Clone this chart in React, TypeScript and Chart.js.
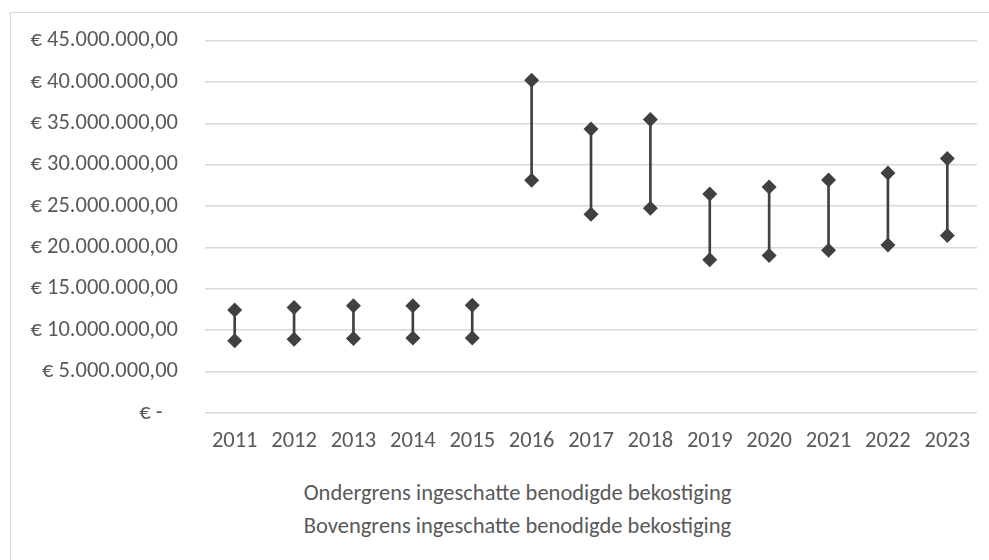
import React, { useEffect, useRef } from "react";
import { Chart, registerables } from "chart.js";

Chart.register(...registerables);

const years = ["2011","2012","2013","2014","2015","2016","2017","2018","2019","2020","2021","2022","2023"];
const ondergrens = [8.72e6, 8.9e6, 9.01e6, 9.05e6, 9.05e6, 28.12e6, 24.02e6, 24.74e6, 18.5e6, 19.03e6, 19.67e6, 20.31e6, 21.45e6];
const bovengrens = [12.43e6, 12.76e6, 12.95e6, 12.95e6, 13.03e6, 40.19e6, 34.3e6, 35.45e6, 26.47e6, 27.31e6, 28.16e6, 29.0e6, 30.74e6];
const legendLabels = ["Ondergrens ingeschatte benodigde bekostiging", "Bovengrens ingeschatte benodigde bekostiging"];
const yMin = 0;
const yMax = 45e6;
const yStep = 5e6;

const FONT = "Carlito, Lato, 'Open Sans', sans-serif";
const TEXT = "#595959";
const MARK = "#404040";
const FS = 22.5;

function euro(v: number): string {
  if (v === 0) return "€ -   ";
  const intPart = Math.round(v).toString().replace(/\B(?=(\d{3})+(?!\d))/g, ".");
  return "€ " + intPart + ",00";
}

export default function App() {
  const ref = useRef<HTMLCanvasElement | null>(null);
  useEffect(() => {
    if (!ref.current) return;
    const chart = new Chart(ref.current, {
      type: "bar",
      data: {
        labels: years,
        datasets: [
          {
            type: "line",
            label: legendLabels[0],
            data: ondergrens,
            showLine: false,
            pointStyle: "rectRot",
            pointRadius: 7.5,
            pointBorderWidth: 0,
            pointBackgroundColor: MARK,
            pointBorderColor: MARK,
            backgroundColor: MARK,
            borderColor: MARK,
            order: 1,
          } as any,
          {
            type: "line",
            label: legendLabels[1],
            data: bovengrens,
            showLine: false,
            pointStyle: "rectRot",
            pointRadius: 7.5,
            pointBorderWidth: 0,
            pointBackgroundColor: MARK,
            pointBorderColor: MARK,
            backgroundColor: MARK,
            borderColor: MARK,
            order: 1,
          } as any,
          {
            type: "bar",
            label: "hoog-laag",
            data: years.map((_, i) => [ondergrens[i], bovengrens[i]]),
            backgroundColor: MARK,
            borderWidth: 0,
            barThickness: 2,
            order: 2,
          } as any,
        ],
      },
      options: {
        responsive: false,
        maintainAspectRatio: false,
        animation: false,
        layout: { padding: { top: 0, right: 12, left: 0, bottom: 0 } },
        plugins: {
          legend: { display: false },
          tooltip: { enabled: false },
          title: { display: false },
        },
        scales: {
          x: {
            type: "category",
            offset: true,
            grid: { display: false, drawTicks: false },
            border: { display: false },
            ticks: {
              color: TEXT,
              font: { family: FONT, size: FS },
              padding: 15,
              maxRotation: 0,
              autoSkip: false,
            },
            afterFit: (s: any) => { s.height = 57; },
          },
          y: {
            min: yMin,
            max: yMax,
            grid: { color: "#d9d9d9", lineWidth: 1.5, drawTicks: false },
            border: { display: false },
            ticks: {
              stepSize: yStep,
              color: TEXT,
              font: { family: FONT, size: FS },
              padding: 27,
              callback: (v: any) => euro(Number(v)),
            },
            afterFit: (s: any) => { s.width = 194; },
          },
        },
      } as any,
    });
    return () => chart.destroy();
  }, []);

  return (
    <div style={{ position: "absolute", left: 0, top: 0, width: 989, height: 560, overflow: "hidden", background: "#fff" }}>
      <div style={{ position: "absolute", left: 10, top: 12, width: 1015, height: 600, border: "1.5px solid #d9d9d9", boxSizing: "border-box" }} />
      <canvas ref={ref} width={978} height={470} style={{ position: "absolute", left: 11, top: 0, display: "block" }} />
      <div style={{ position: "absolute", left: 10, top: 476, width: 1015, textAlign: "center", fontFamily: FONT, fontSize: FS, color: TEXT, lineHeight: "33px" }}>
        <div>{legendLabels[0]}</div>
        <div>{legendLabels[1]}</div>
      </div>
    </div>
  );
}
